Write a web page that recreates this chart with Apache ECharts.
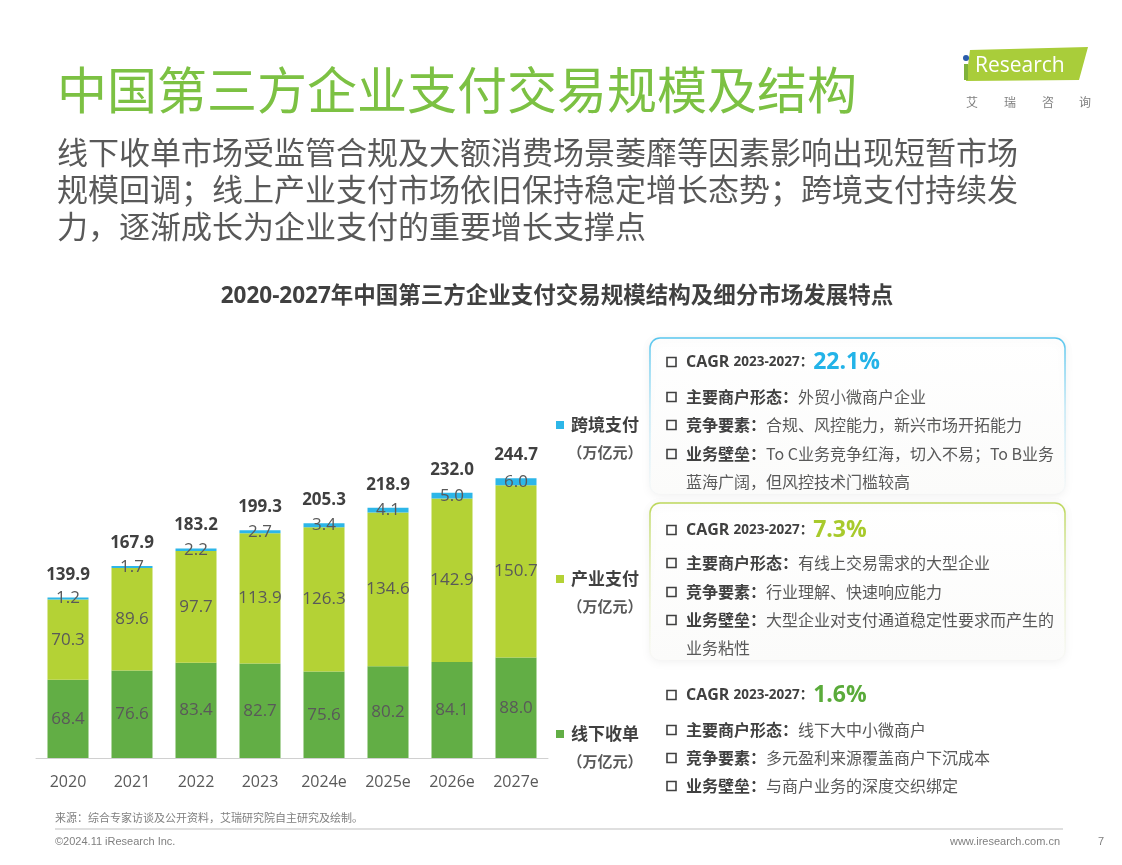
<!DOCTYPE html>
<html><head><meta charset="utf-8">
<script src="https://cdn.jsdelivr.net/npm/echarts@6/dist/echarts.min.js"></script>
<style>html,body{margin:0;padding:0;background:#fff}#c{width:1122px;height:865px}</style>
</head><body><div id="c"></div><script>
// ---- data ----
const years = ['2020','2021','2022','2023','2024e','2025e','2026e','2027e'];
const offline = [68.4,76.6,83.4,82.7,75.6,80.2,84.1,88.0];
const industry = [70.3,89.6,97.7,113.9,126.3,134.6,142.9,150.7];
const crossBorder = [1.2,1.7,2.2,2.7,3.4,4.1,5.0,6.0];
const totals = [139.9,167.9,183.2,199.3,205.3,218.9,232.0,244.7];
const cagrs = ['22.1%','7.3%','1.6%'];

const C_OFF = '#62ae45', C_IND = '#b4d235', C_CB = '#2db6e8';
const CJK = '"Noto Sans CJK SC", sans-serif';
const NUM = '"Open Sans", "Noto Sans CJK SC", sans-serif';
const fmt = p => Number(p.value).toFixed(1);

const chart = echarts.init(document.getElementById('c'));
const g = [];
// title
g.push({type:'text', x:57, y:90, style:{text:'中国第三方企业支付交易规模及结构', fill:'#7cc143', font:'50px '+CJK, verticalAlign:'middle'}});
const sub = ['线下收单市场受监管合规及大额消费场景萎靡等因素影响出现短暂市场','规模回调；线上产业支付市场依旧保持稳定增长态势；跨境支付持续发','力，逐渐成长为企业支付的重要增长支撑点'];
sub.forEach((t,i)=>g.push({type:'text', x:57, y:152+i*37, style:{text:t, fill:'#595959', font:'31px '+CJK, verticalAlign:'middle'}}));
// logo
g.push({type:'polygon', shape:{points:[[970,50],[1088,47],[1079,80],[966,81]]}, style:{fill:'#a9cd3a'}});
g.push({type:'rect', shape:{x:964,y:64,width:4,height:16}, style:{fill:'#7fb23a'}});
g.push({type:'circle', shape:{cx:966,cy:58,r:3}, style:{fill:'#2a5caa'}});
g.push({type:'text', x:975, y:66, style:{text:'Research', fill:'#fff', font:'21px '+NUM, verticalAlign:'middle'}});
['艾','瑞','咨','询'].forEach((t,i)=>g.push({type:'text', x:[972,1010,1048,1085][i], y:102, style:{text:t, fill:'#7f7f7f', font:'12px '+CJK, align:'center', verticalAlign:'middle'}}));
// chart title
g.push({type:'text', x:557, y:297, style:{text:'2020-2027年中国第三方企业支付交易规模结构及细分市场发展特点', fill:'#404040', font:'bold 22.5px '+NUM, align:'center', verticalAlign:'middle'}});
// legend labels
const legs = [['跨境支付',C_CB,425],['产业支付',C_IND,579],['线下收单',C_OFF,734]];
legs.forEach(([t,c,y])=>{
  g.push({type:'rect', shape:{x:556,y:y-4,width:8,height:8}, style:{fill:c}});
  g.push({type:'text', x:571, y:y, style:{text:t, fill:'#404040', font:'bold 17px '+CJK, verticalAlign:'middle'}});
  g.push({type:'text', x:605, y:y+27, style:{text:'（万亿元）', fill:'#595959', font:'bold 15px '+CJK, align:'center', verticalAlign:'middle'}});
});
// panels
function panelBox(y0,h,rgb){
  const grad = new echarts.graphic.LinearGradient(0,0,0,1,[
    {offset:0,color:'rgba('+rgb+',1)'},{offset:0.45,color:'rgba('+rgb+',0.35)'},{offset:1,color:'rgba('+rgb+',0)'}]);
  const bg = new echarts.graphic.LinearGradient(0,0,0,1,[
    {offset:0,color:'#ffffff'},{offset:1,color:'#fbfbfa'}]);
  g.push({type:'rect', shape:{x:650,y:y0,width:415,height:h,r:10},
    style:{fill:bg, stroke:grad, lineWidth:1.5, shadowBlur:8, shadowColor:'rgba(0,0,0,0.06)', shadowOffsetY:2}});
}
panelBox(338,156,'88,198,238');
panelBox(503,157,'188,215,90');
const rich = {
  b:{font:'bold 16px '+CJK, fill:'#404040'},
  n:{font:'16px '+CJK, fill:'#595959'},
  c:{font:'bold 16px '+NUM, fill:'#404040'},
  s:{font:'bold 13.5px '+NUM, fill:'#404040'},
  v0:{font:'bold 23px '+NUM, fill:'#23b3e8'},
  v1:{font:'bold 23px '+NUM, fill:'#a8ca2c'},
  v2:{font:'bold 23px '+NUM, fill:'#5aab3a'}
};
const panels = [
  {ys:[362,397,425,454], rows:[['主要商户形态：','外贸小微商户企业'],['竞争要素：','合规、风控能力，新兴市场开拓能力'],['业务壁垒：','To C业务竞争红海，切入不易；To B业务']], extra:['蓝海广阔，但风控技术门槛较高',482]},
  {ys:[530,563,592,620], rows:[['主要商户形态：','有线上交易需求的大型企业'],['竞争要素：','行业理解、快速响应能力'],['业务壁垒：','大型企业对支付通道稳定性要求而产生的']], extra:['业务粘性',648]},
  {ys:[695,730,758,786], rows:[['主要商户形态：','线下大中小微商户'],['竞争要素：','多元盈利来源覆盖商户下沉成本'],['业务壁垒：','与商户业务的深度交织绑定']]}
];
panels.forEach((p,k)=>{
  p.ys.forEach((y,i)=>{
    g.push({type:'rect', shape:{x:667,y:y-4.5,width:9,height:9}, style:{fill:'none', stroke:'#404040', lineWidth:1.6}});
    const txt = i===0 ? '{c|CAGR }{s|2023-2027：}{v'+k+'|'+cagrs[k]+'}' : '{b|'+p.rows[i-1][0]+'}{n|'+p.rows[i-1][1]+'}';
    g.push({type:'text', x:686, y:y, style:{text:txt, rich:rich, verticalAlign:'middle'}});
  });
  if(p.extra) g.push({type:'text', x:686, y:p.extra[1], style:{text:p.extra[0], font:'16px '+CJK, fill:'#595959', verticalAlign:'middle'}});
});
// footer
g.push({type:'text', x:55, y:818, style:{text:'来源：综合专家访谈及公开资料，艾瑞研究院自主研究及绘制。', fill:'#7f7f7f', font:'11px '+CJK, verticalAlign:'middle'}});
g.push({type:'line', shape:{x1:55,y1:829,x2:1063,y2:829}, style:{stroke:'#bfbfbf', lineWidth:1}});
g.push({type:'text', x:55, y:842, style:{text:'©2024.11 iResearch Inc.', fill:'#7f7f7f', font:'11px "Liberation Sans", sans-serif', verticalAlign:'middle'}});
g.push({type:'text', x:1060, y:842, style:{text:'www.iresearch.com.cn', fill:'#7f7f7f', font:'11px "Liberation Sans", sans-serif', align:'right', verticalAlign:'middle'}});
g.push({type:'text', x:1101, y:842, style:{text:'7', fill:'#7f7f7f', font:'11px "Liberation Sans", sans-serif', align:'center', verticalAlign:'middle'}});

const segLabel = {show:true, position:'inside', color:'#595959', fontSize:17, fontFamily:NUM, formatter:fmt};
chart.setOption({
  animation:false,
  grid:{left:36, width:512, top:438, height:320},
  xAxis:{type:'category', data:years, axisTick:{show:false},
    axisLine:{lineStyle:{color:'#d0d0d0', width:1}},
    axisLabel:{color:'#595959', fontSize:16, fontFamily:NUM, margin:16}},
  yAxis:{type:'value', min:0, max:280, show:false, splitLine:{show:false}},
  series:[
    {name:'线下收单', type:'bar', stack:'s', data:offline, barWidth:41, itemStyle:{color:C_OFF}, label:segLabel},
    {name:'产业支付', type:'bar', stack:'s', data:industry, barWidth:41, itemStyle:{color:C_IND}, label:segLabel},
    {name:'跨境支付', type:'bar', stack:'s', data:crossBorder, barWidth:41, barMinHeight:2, itemStyle:{color:C_CB}, label:segLabel},
    {name:'合计', type:'line', data:totals, symbol:'circle', symbolSize:1, showSymbol:true, itemStyle:{color:'rgba(0,0,0,0)'}, lineStyle:{opacity:0}, silent:true, z:10,
      label:{show:true, position:'top', distance:14, color:'#404040', fontSize:17, fontWeight:'bold', fontFamily:NUM, formatter:fmt}}
  ],
  graphic:g
});
</script></body></html>
